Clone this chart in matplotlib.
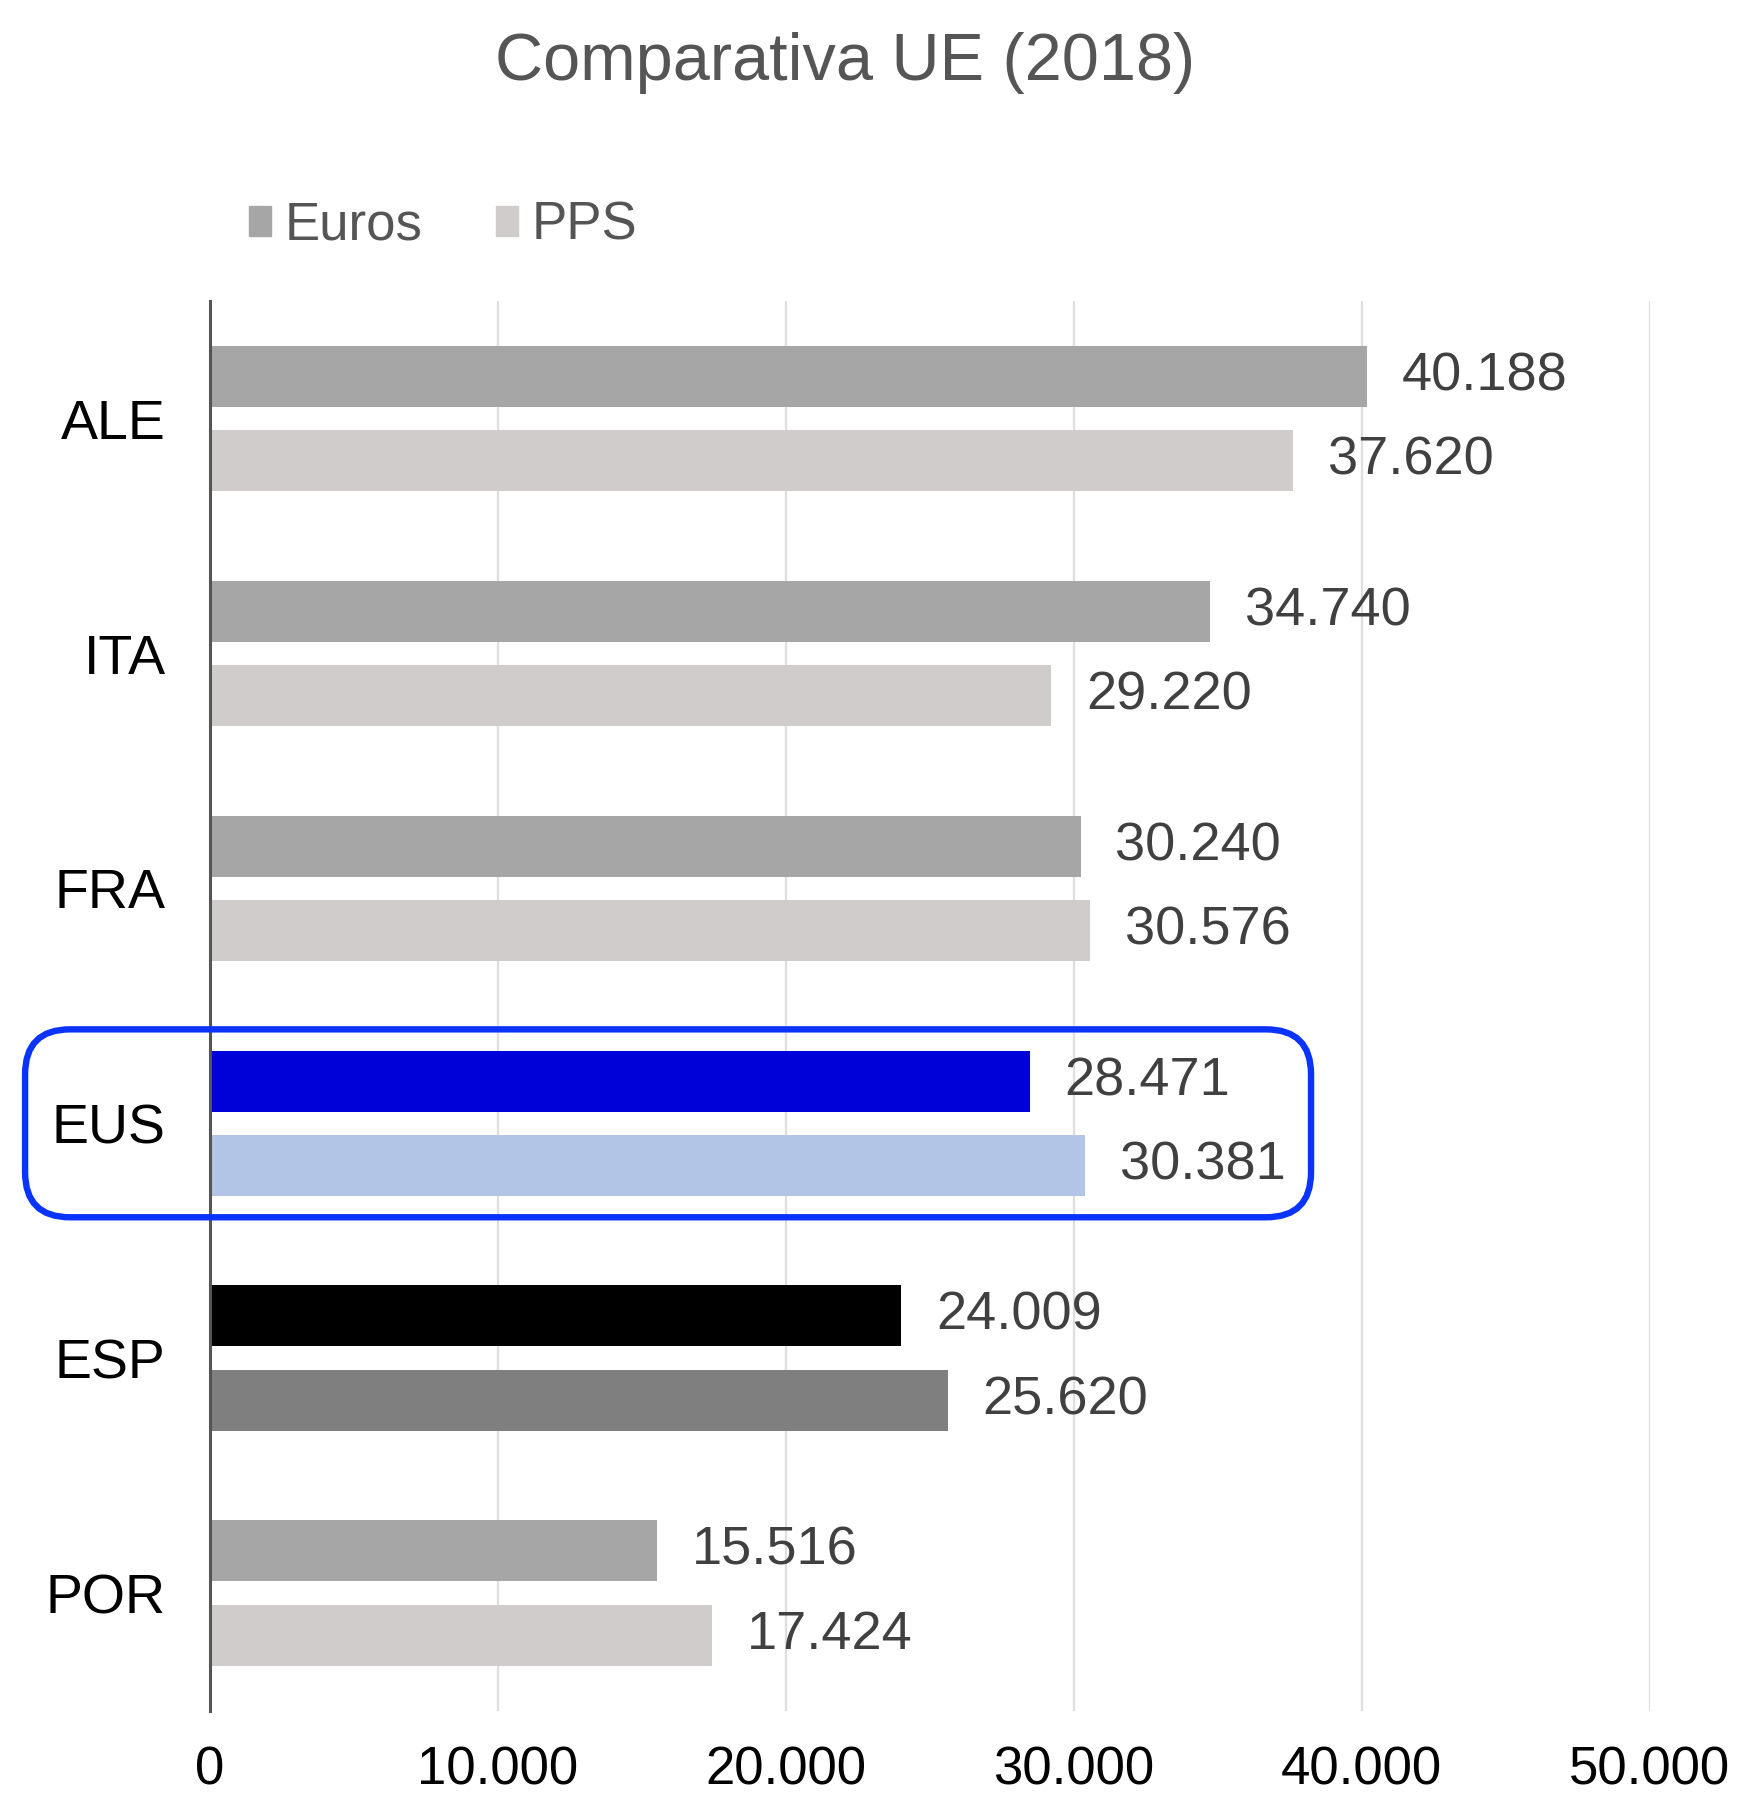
import matplotlib
matplotlib.use("Agg")
import matplotlib.pyplot as plt
from matplotlib.patches import Patch, FancyBboxPatch

categories = ["ALE", "ITA", "FRA", "EUS", "ESP", "POR"]
euros = [40188, 34740, 30240, 28471, 24009, 15516]
pps = [37620, 29220, 30576, 30381, 25620, 17424]
euro_colors = ["#a6a6a6", "#a6a6a6", "#a6a6a6", "#0000d8", "#000000", "#a6a6a6"]
pps_colors = ["#cfcccb", "#cfcccb", "#cfcccb", "#b2c5e6", "#7f7f7f", "#cfcccb"]
xticks = [0, 10000, 20000, 30000, 40000, 50000]
title = "Comparativa UE (2018)"
highlight = "EUS"

def fmt(v):
    return f"{v:,}".replace(",", ".")

plt.rcParams['font.family'] = ['Liberation Sans', 'DejaVu Sans']

W, H, DPI = 17.42, 17.93, 100
fig = plt.figure(figsize=(W, H), dpi=DPI)
ax = fig.add_axes([0.1206, 0.046, 0.947 - 0.1206, 0.832 - 0.046])

pos = list(range(len(categories)))
off, hgt = 0.18, 0.26
ax.barh([p - off for p in pos], euros, height=hgt, color=euro_colors, zorder=2)
ax.barh([p + off for p in pos], pps, height=hgt, color=pps_colors, zorder=2)

for p, e, q in zip(pos, euros, pps):
    ax.annotate(fmt(e), (e, p - off), xytext=(25, 0), textcoords="offset points",
                va="center", ha="left", fontsize=39, color="#404040")
    ax.annotate(fmt(q), (q, p + off), xytext=(25, 0), textcoords="offset points",
                va="center", ha="left", fontsize=39, color="#404040")

ax.set_ylim(len(categories) - 0.5, -0.5)
ax.set_xlim(0, 50000)
ax.set_yticks(pos)
ax.set_yticklabels(categories, fontsize=40, color="black")
ax.set_xticks(xticks)
ax.set_xticklabels([fmt(t) for t in xticks], fontsize=38, color="black")
ax.tick_params(axis="both", length=0)
ax.tick_params(axis="y", pad=32)
ax.tick_params(axis="x", pad=25)
ax.grid(axis="x", color="#dedede", linewidth=1.6, zorder=0)
ax.set_axisbelow(True)
for s in ["top", "right", "bottom"]:
    ax.spines[s].set_visible(False)
ax.spines["left"].set_color("#555555")
ax.spines["left"].set_linewidth(2.2)
ax.spines["left"].set_zorder(3)

fig.text(0.485, 0.965, title, ha="center", va="center", fontsize=48, color="#555555")

handles = [Patch(color=euro_colors[0], label="Euros"), Patch(color=pps_colors[0], label="PPS")]
fig.legend(handles=handles, loc="center left", bbox_to_anchor=(0.143, 0.874), ncol=2,
           frameon=False, fontsize=38, handlelength=0.42, handleheight=0.5,
           handletextpad=0.25, columnspacing=1.4, borderpad=0, borderaxespad=0,
           labelcolor="#555555")

# highlight box around EUS group
i = categories.index(highlight)
_, y_top = ax.transData.transform((0, i - 0.40))
_, y_bot = ax.transData.transform((0, i + 0.40))
x0 = 0.0144 * W * DPI
x1 = 0.7526 * W * DPI
box = FancyBboxPatch((x0 / DPI, y_bot / DPI), (x1 - x0) / DPI, (y_top - y_bot) / DPI,
                     boxstyle="round,pad=0,rounding_size=0.45",
                     transform=fig.dpi_scale_trans, fill=False,
                     edgecolor="#0a33ff", linewidth=4.6, zorder=10)
fig.add_artist(box)

fig.savefig("out.png", dpi=DPI)
